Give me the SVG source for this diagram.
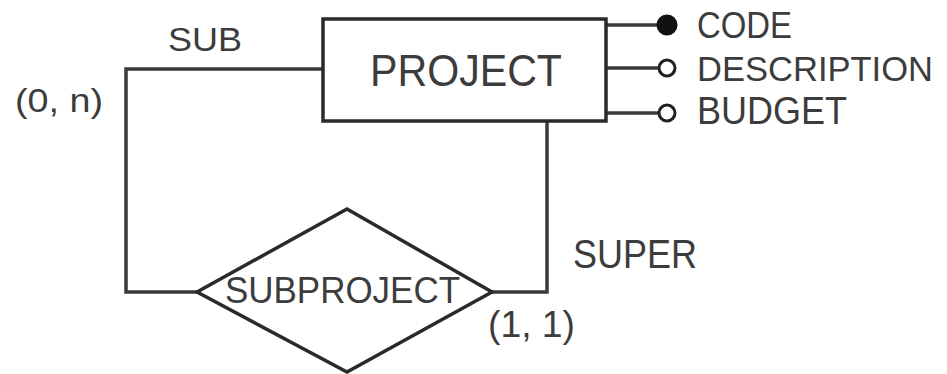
<svg xmlns="http://www.w3.org/2000/svg" width="947" height="374" viewBox="0 0 947 374">
<style>
.shape{fill:#fff;stroke:#2a2a2a;stroke-width:3.5}
.conn{fill:none;stroke:#3a3a3a;stroke-width:3.5}
.lbl{font-family:"Liberation Sans",Arial,sans-serif;fill:#3c3c3c}
.attr-key{fill:#111;stroke:#111;stroke-width:2}
.attr{fill:#fff;stroke:#222;stroke-width:3}
</style>
<rect width="947" height="374" fill="#fff"/>
<g id="connectors">
<path class="conn" d="M322 69 H126 V292 H197"/>
<path class="conn" d="M492 292 H547 V121"/>
<path class="conn" d="M605 25 H657"/>
<path class="conn" d="M605 68 H659"/>
<path class="conn" d="M605 113 H659"/>
</g>
<g id="project">
<rect class="shape" x="323" y="19" width="283" height="102"/>
<text class="lbl" x="370" y="86" font-size="44" textLength="192" lengthAdjust="spacingAndGlyphs">PROJECT</text>
</g>
<g id="subproject">
<polygon class="shape" points="197,292 347,209 492,292 347,372"/>
<text class="lbl" x="225" y="303" font-size="36" textLength="235" lengthAdjust="spacingAndGlyphs">SUBPROJECT</text>
</g>
<g id="attr-code">
<circle class="attr-key" cx="667" cy="25" r="9.5"/>
<text class="lbl" x="697" y="38" font-size="36" textLength="95" lengthAdjust="spacingAndGlyphs">CODE</text>
</g>
<g id="attr-description">
<circle class="attr" cx="667" cy="68" r="8"/>
<text class="lbl" x="697" y="81" font-size="35" textLength="236" lengthAdjust="spacingAndGlyphs">DESCRIPTION</text>
</g>
<g id="attr-budget">
<circle class="attr" cx="667" cy="113" r="8"/>
<text class="lbl" x="697" y="124" font-size="38" textLength="150" lengthAdjust="spacingAndGlyphs">BUDGET</text>
</g>
<g id="role-labels">
<text class="lbl" x="168" y="51" font-size="33" textLength="74" lengthAdjust="spacingAndGlyphs">SUB</text>
<text class="lbl" x="15" y="112" font-size="34" textLength="88" lengthAdjust="spacingAndGlyphs">(0, n)</text>
<text class="lbl" x="573" y="268" font-size="40" textLength="124" lengthAdjust="spacingAndGlyphs">SUPER</text>
<text class="lbl" x="488" y="337" font-size="36" textLength="87" lengthAdjust="spacingAndGlyphs">(1, 1)</text>
</g>
</svg>
